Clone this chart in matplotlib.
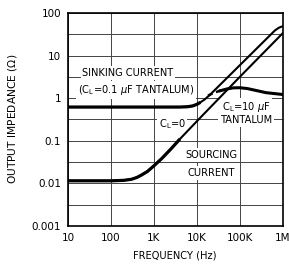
import matplotlib
matplotlib.use('Agg')
import matplotlib.pyplot as plt
import numpy as np

# values (frequency in Hz, impedance in ohms)
SOURCING_F = [10, 100, 200, 300, 400, 500, 700, 1000, 1500, 2500, 4000, 1e4, 1e5, 1e6]
SOURCING_Z = [0.0115, 0.0115, 0.0118, 0.0125, 0.0138, 0.0155, 0.019, 0.026, 0.038,
              0.065, 0.11, 0.29, 3.2, 34]

SINKING_F = [10, 1000, 4000, 6000, 8000, 1e4, 1.2e4, 1.5e4, 2e4, 3e4, 1e5, 3e5, 5e5,
             6.5e5, 8e5, 9e5, 1e6]
SINKING_Z = [0.62, 0.62, 0.62, 0.63, 0.66, 0.72, 0.8, 0.93, 1.2, 1.8, 6.0, 18, 30,
             39, 45, 47.5, 48.5]

TANT10_DASH_F = [1.8e4, 2.5e4, 3.5e4]
TANT10_DASH_Z = [1.15, 1.35, 1.5]
TANT10_F = [3.5e4, 5e4, 7e4, 1e5, 1.5e5, 2.5e5, 4e5, 1e6]
TANT10_Z = [1.5, 1.65, 1.75, 1.76, 1.68, 1.5, 1.35, 1.22]

X_TICKS = [10, 100, 1e3, 1e4, 1e5, 1e6]
X_LABELS = ['10', '100', '1K', '10K', '100K', '1M']
Y_TICKS = [0.001, 0.01, 0.1, 1, 10, 100]
Y_LABELS = ['0.001', '0.01', '0.1', '1', '10', '100']

FONT = ['Liberation Sans Narrow', 'DejaVu Sans']
plt.rcParams['font.family'] = FONT
plt.rcParams['mathtext.fontset'] = 'custom'
plt.rcParams['mathtext.rm'] = 'Liberation Sans Narrow'
plt.rcParams['mathtext.it'] = 'Liberation Sans Narrow:italic'

fig = plt.figure(figsize=(2.89, 2.80), dpi=100)
ax = fig.add_axes([68 / 289, 1 - 226 / 280, 215 / 289, 213 / 280])
ax.set_xscale('log')
ax.set_yscale('log')
ax.set_xlim(10, 1e6)
ax.set_ylim(0.001, 100)

ax.set_xticks(X_TICKS)
ax.set_xticklabels(X_LABELS)
ax.set_yticks(Y_TICKS)
ax.set_yticklabels(Y_LABELS)
ax.xaxis.set_minor_locator(matplotlib.ticker.NullLocator())
ax.set_yticks([10 ** (k + 0.5) for k in range(-3, 2)], minor=True)
ax.tick_params(which='both', length=0, labelsize=7.5, pad=5)
ax.grid(True, which='major', axis='x', color='#444444', lw=0.7, zorder=0)
ax.grid(True, which='both', axis='y', color='#444444', lw=0.7, zorder=0)
ax.set_axisbelow(True)
for s in ax.spines.values():
    s.set_linewidth(1.2)

f = np.array(SOURCING_F)
z = np.array(SOURCING_Z)
ax.plot(f, z, color='black', lw=1.5, zorder=3)
ax.plot(f[f <= 4000], z[f <= 4000], color='black', lw=2.3, zorder=3,
        solid_capstyle='butt')

f = np.array(SINKING_F)
z = np.array(SINKING_Z)
ax.plot(f, z, color='black', lw=1.5, zorder=3)
ax.plot(f[f <= 1.2e4], z[f <= 1.2e4], color='black', lw=2.3, zorder=3,
        solid_capstyle='butt')

ax.plot(TANT10_DASH_F, TANT10_DASH_Z, color='black', lw=1.8, ls=(0, (2, 1.5)), zorder=3)
ax.plot(TANT10_F, TANT10_Z, color='black', lw=2.2, zorder=3)

box = dict(facecolor='white', edgecolor='none', pad=1.2)
kw = dict(transform=ax.transAxes, ha='center', va='center', fontsize=7.1,
          bbox=box, zorder=2)
ax.text(0.279, 0.718, 'SINKING CURRENT', **kw)
ax.text(0.316, 0.638, r'(C$_\mathrm{L}$=0.1 $\mu$F TANTALUM)', **kw)
ax.text(0.484, 0.479, r'C$_\mathrm{L}$=0', **kw)
ax.text(0.828, 0.559, r'C$_\mathrm{L}$=10 $\mu$F', **kw)
ax.text(0.828, 0.498, 'TANTALUM', **kw)
ax.text(0.665, 0.333, 'SOURCING', **kw)
ax.text(0.665, 0.249, 'CURRENT', **kw)

fig.text(13 / 289, 1 - 119 / 280, r'OUTPUT IMPEDANCE ($\Omega$)', rotation=90,
         ha='center', va='center', fontsize=7.7)
fig.text(175 / 289, 1 - 255 / 280, 'FREQUENCY (Hz)', ha='center', va='center',
         fontsize=7.1)

fig.savefig('out.png', dpi=100)
